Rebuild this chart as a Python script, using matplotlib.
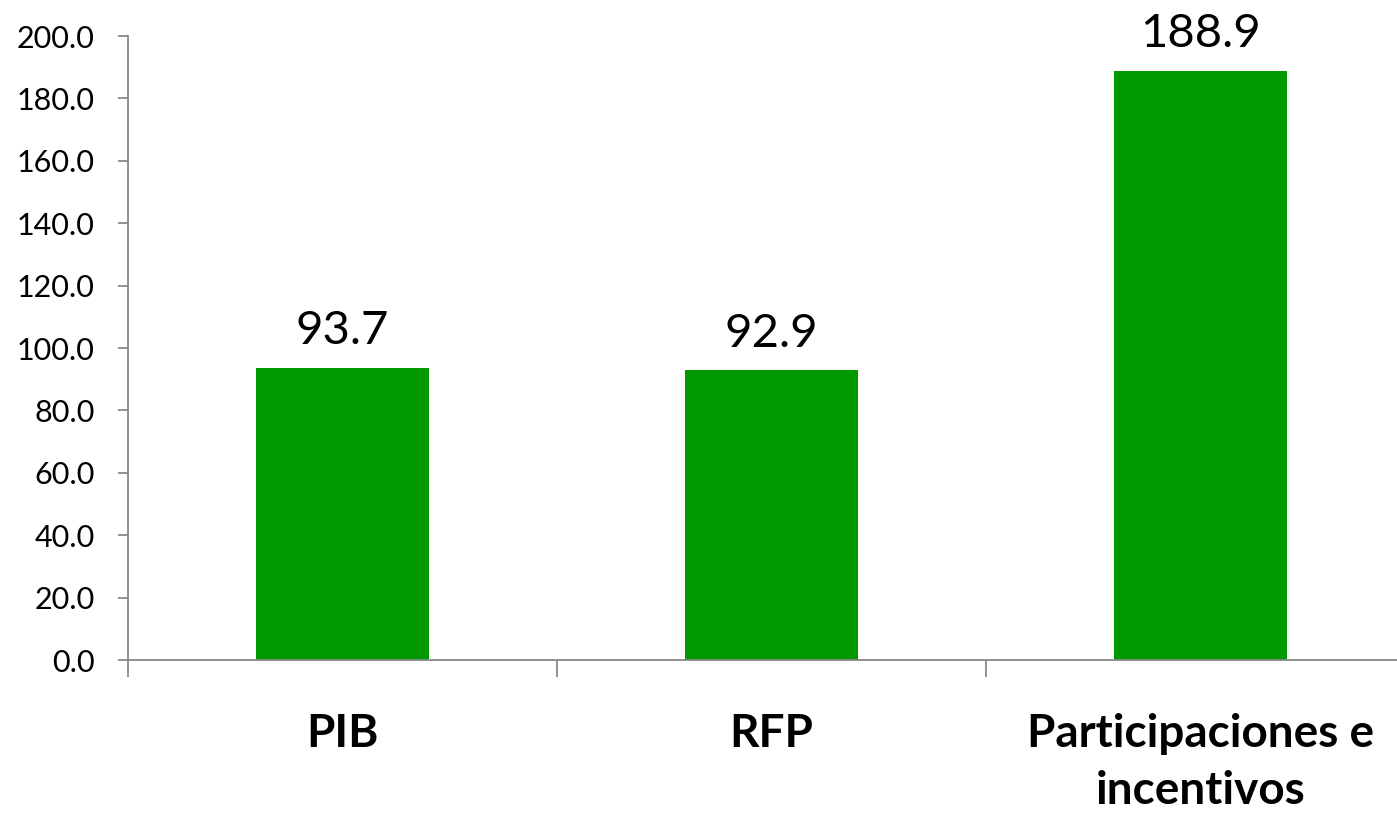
import matplotlib
matplotlib.use("Agg")
import matplotlib.pyplot as plt
import numpy as np

categories = ["PIB", "RFP", "Participaciones e\nincentivos"]
values = [93.7, 92.9, 188.9]
yticks = [0, 20, 40, 60, 80, 100, 120, 140, 160, 180, 200]

plt.rcParams['font.family'] = ['Lato', 'DejaVu Sans']

fig = plt.figure(figsize=(13.97, 8.14), dpi=100)
W, H = 1397, 814
# axes box in pixels: left 128, right 1415 (clipped by figure), top 36, bottom 660
ax = fig.add_axes([128 / W, (H - 660) / H, (1415 - 128) / W, (660 - 36) / H])

x = np.arange(len(categories))
ax.bar(x, values, width=0.405, color="#009900", zorder=2)

for xi, v in zip(x, values):
    ax.annotate(f"{v:.1f}", (xi, v), xytext=(0, 11), textcoords="offset points",
                ha="center", va="bottom", fontsize=34, color="black")

ax.set_xlim(-0.5, 2.5)
ax.set_ylim(0, 200)
ax.set_yticks(yticks)
ax.set_yticklabels([f"{t:.1f}" for t in yticks], fontsize=22)

ax.set_xticks(x)
ax.set_xticklabels(categories, fontsize=33, fontweight="bold", linespacing=1.45)
ax.set_xticks([-0.5, 0.5, 1.5, 2.5], minor=True)
ax.tick_params(axis="x", which="major", length=0, pad=38)
ax.tick_params(axis="x", which="minor", length=12, color="#888888", width=1.3)
ax.tick_params(axis="y", length=7, color="#888888", width=1.3, pad=17)

for side in ["top", "right"]:
    ax.spines[side].set_visible(False)
for side in ["left", "bottom"]:
    ax.spines[side].set_color("#888888")
    ax.spines[side].set_linewidth(1.3)

fig.savefig("out.png", dpi=100)
